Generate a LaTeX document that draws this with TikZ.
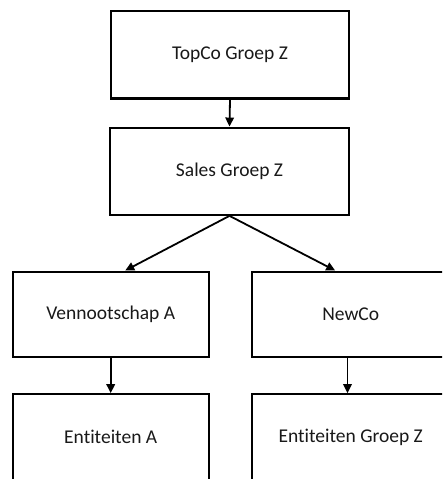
\documentclass[tikz,border=0pt]{standalone}
\usepackage{fontspec}
\setmainfont{Carlito}[Ligatures=NoCommon]
\usetikzlibrary{arrows.meta}
\begin{document}
\begin{tikzpicture}[x=1pt,y=-1pt,
  entity/.style={draw=black, line width=2.3pt, fill=white, inner sep=0pt,
    font=\fontsize{19.5}{22}\selectfont, text=black!90},
  link/.style={line width=1.8pt, -{Triangle[length=9pt,width=8.5pt]}}]
  \useasboundingbox (0,0) rectangle (442,479);
  \clip (0,0) rectangle (442,479);
  \fill[white] (0,0) rectangle (442,479);
  % ownership chain
  \node[entity, minimum width=238.5pt, minimum height=87.3pt] (t) at (230,54.7) {TopCo Groep Z};
  \node[entity, minimum width=238.5pt, minimum height=87pt] (s) at (229.5,171.2) {Sales Groep Z};
  \node[entity, minimum width=196pt, minimum height=85.6pt] (v) at (110.7,314.5) {Vennootschap A};
  \node[entity, minimum width=198pt, minimum height=85.6pt] (n) at (350.7,314.5) {NewCo};
  \node[entity, minimum width=196pt, minimum height=86pt] (ea) at (110.7,437.3) {Entiteiten A};
  \node[entity, minimum width=198pt, minimum height=86pt] (eg) at (350.7,437.3) {Entiteiten Groep Z};
  % connectors
  \draw[link] (t.south) -- (s.north);
  \draw[link] (s.south) -- ([xshift=14.5pt]v.north);
  \draw[link] (s.south) -- ([xshift=-15.5pt]n.north);
  \draw[link] ([xshift=-3.2pt]n.south) -- ([xshift=-3.2pt]eg.north);
  \draw[link] (v.south) -- (ea.north);
\end{tikzpicture}
\end{document}
